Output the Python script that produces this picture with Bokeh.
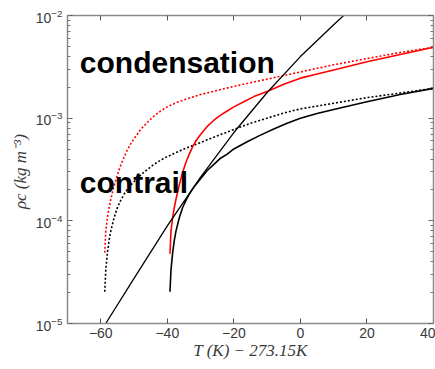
from bokeh.plotting import figure
from bokeh.models import LinearAxis, LogAxis, FixedTicker, LogTicker, Label
from bokeh.embed import file_html
from bokeh.resources import INLINE

# ---- data (rho given as log10 of kg m^-3 read on the log axis) ----
T_red_dot = [-58.8, -58.5, -58.0, -57.5, -57.0, -56.0, -55.0, -54.0, -53.0, -52.0, -51.0, -50.0,
             -48.0, -46.0, -44.0, -42.0, -40.0, -37.0, -34.0, -30.0, -25.0, -20.0, -10.0, 0.0,
             10.0, 20.0, 30.0, 40.0]
log_rho_red_dot = [-4.31, -4.10, -3.97, -3.87, -3.79, -3.66, -3.55, -3.46, -3.38, -3.31, -3.25, -3.20,
                   -3.11, -3.04, -2.98, -2.93, -2.89, -2.845, -2.81, -2.77, -2.73, -2.69, -2.62, -2.55,
                   -2.48, -2.42, -2.36, -2.31]

T_red = [-39.2, -38.9, -38.4, -37.9, -37.4, -36.4, -35.4, -34.4, -33.4, -32.4, -31.4, -30.0,
         -28.0, -26.0, -24.0, -22.0, -20.0, -17.0, -14.0, -10.0, -5.0, 0.0, 5.0, 10.0, 20.0, 30.0, 40.0]
log_rho_red = [-4.32, -4.10, -3.97, -3.87, -3.79, -3.65, -3.53, -3.43, -3.35, -3.28, -3.22, -3.16,
               -3.08, -3.02, -2.97, -2.93, -2.89, -2.84, -2.79, -2.74, -2.67, -2.61, -2.57, -2.53,
               -2.45, -2.38, -2.31]

T_blk_dot = [-58.8, -58.5, -58.0, -57.5, -57.0, -56.0, -55.0, -54.0, -53.0, -51.5, -49.5, -47.0,
             -44.0, -41.0, -38.0, -35.0, -31.0, -28.0, -24.0, -20.0, -15.0, -10.0, -5.0, 0.0,
             10.0, 20.0, 30.0, 40.0]
log_rho_blk_dot = [-4.69, -4.48, -4.31, -4.19, -4.10, -3.97, -3.87, -3.80, -3.74, -3.67, -3.60, -3.525,
                   -3.45, -3.39, -3.345, -3.30, -3.25, -3.21, -3.16, -3.11, -3.05, -3.00, -2.95, -2.91,
                   -2.855, -2.80, -2.755, -2.71]

T_blk = [-39.2, -38.9, -38.4, -37.9, -37.4, -36.4, -35.4, -34.4, -33.4, -32.0, -30.0, -28.0,
         -26.0, -24.0, -22.0, -20.0, -16.0, -12.0, -8.0, -4.0, 0.0, 5.0, 10.0, 20.0, 30.0, 40.0]
log_rho_blk = [-4.69, -4.48, -4.31, -4.19, -4.10, -3.97, -3.87, -3.80, -3.74, -3.67, -3.59, -3.51,
               -3.45, -3.39, -3.35, -3.30, -3.23, -3.165, -3.105, -3.05, -3.00, -2.955, -2.915,
               -2.84, -2.77, -2.71]

T_line = [-58.5, -50.0, -40.0, -30.0, -20.0, -10.0, 0.0, 10.0, 14.0]
log_rho_line = [-5.0, -4.56, -4.05, -3.575, -3.14, -2.75, -2.40, -2.09, -1.97]

x_ticks = [-60, -40, -20, 0, 20, 40]

labels = ["condensation", "contrail"]
label_T = [-66.3, -66.3]
label_rho = [3.45e-3, 2.35e-4]


def lin(vals):
    return [10 ** v for v in vals]


# ---- figure ----
p = figure(width=435, height=369, x_range=(-70, 40), y_range=(1e-5, 1e-2),
           y_axis_type="log", output_backend="svg", toolbar_location=None,
           min_border_left=67, min_border_top=15, min_border_right=2, min_border_bottom=46)
p.background_fill_color = "white"
p.border_fill_color = "white"
p.outline_line_color = None
p.xgrid.visible = False
p.ygrid.visible = False

AX_COL = "#8a8a8a"
TXT_COL = "#3a3a3a"


def style_axis(ax):
    ax.axis_line_color = AX_COL
    ax.axis_line_width = 1.5
    ax.major_tick_line_color = "#555555"
    ax.minor_tick_line_color = "#777777"
    ax.major_tick_in = 5
    ax.major_tick_out = 0
    ax.minor_tick_in = 3
    ax.minor_tick_out = 0
    ax.major_label_text_color = TXT_COL
    ax.major_label_text_font = "Liberation Sans"
    ax.major_label_text_font_size = "14px"


def hide_labels(ax):
    ax.major_label_text_font_size = "1px"
    ax.major_label_text_alpha = 0
    ax.major_label_standoff = 0


xa = p.xaxis[0]
xa.ticker = FixedTicker(ticks=x_ticks, minor_ticks=[])
style_axis(xa)
xa.major_label_standoff = 4
xa.axis_label = "T (K) \u2212 273.15K"
xa.axis_label_text_font = "Liberation Serif"
xa.axis_label_text_font_style = "italic"
xa.axis_label_text_font_size = "17px"
xa.axis_label_text_color = TXT_COL
xa.axis_label_standoff = 0

ya = p.yaxis[0]
ya.ticker = LogTicker(num_minor_ticks=10)
style_axis(ya)
ya.major_label_standoff = 5
ya.axis_label = "\u03c1c  (kg m\u207b\u00b3)"
ya.axis_label_text_font = "Liberation Serif"
ya.axis_label_text_font_style = "italic"
ya.axis_label_text_font_size = "17px"
ya.axis_label_text_color = TXT_COL
ya.axis_label_standoff = 3

top = LinearAxis(ticker=FixedTicker(ticks=x_ticks, minor_ticks=[]))
style_axis(top)
hide_labels(top)
p.add_layout(top, "above")

right = LogAxis(ticker=LogTicker(num_minor_ticks=10))
style_axis(right)
hide_labels(right)
p.add_layout(right, "right")

# ---- curves ----
p.line(T_red_dot, lin(log_rho_red_dot), line_color="#ff0000", line_width=1.6, line_dash="2 2")
p.line(T_blk_dot, lin(log_rho_blk_dot), line_color="#000000", line_width=1.6, line_dash="2 2")
p.line(T_red, lin(log_rho_red), line_color="#ff0000", line_width=1.6)
p.line(T_blk, lin(log_rho_blk), line_color="#000000", line_width=1.6)
p.line(T_line, lin(log_rho_line), line_color="#000000", line_width=1.3)

for txt, tx, ty in zip(labels, label_T, label_rho):
    p.add_layout(Label(x=tx, y=ty, text=txt, text_font="Liberation Sans",
                       text_font_style="bold", text_font_size="30px",
                       text_color="#000000", text_baseline="alphabetic"))

open("out.html", "w").write(file_html(p, INLINE))
